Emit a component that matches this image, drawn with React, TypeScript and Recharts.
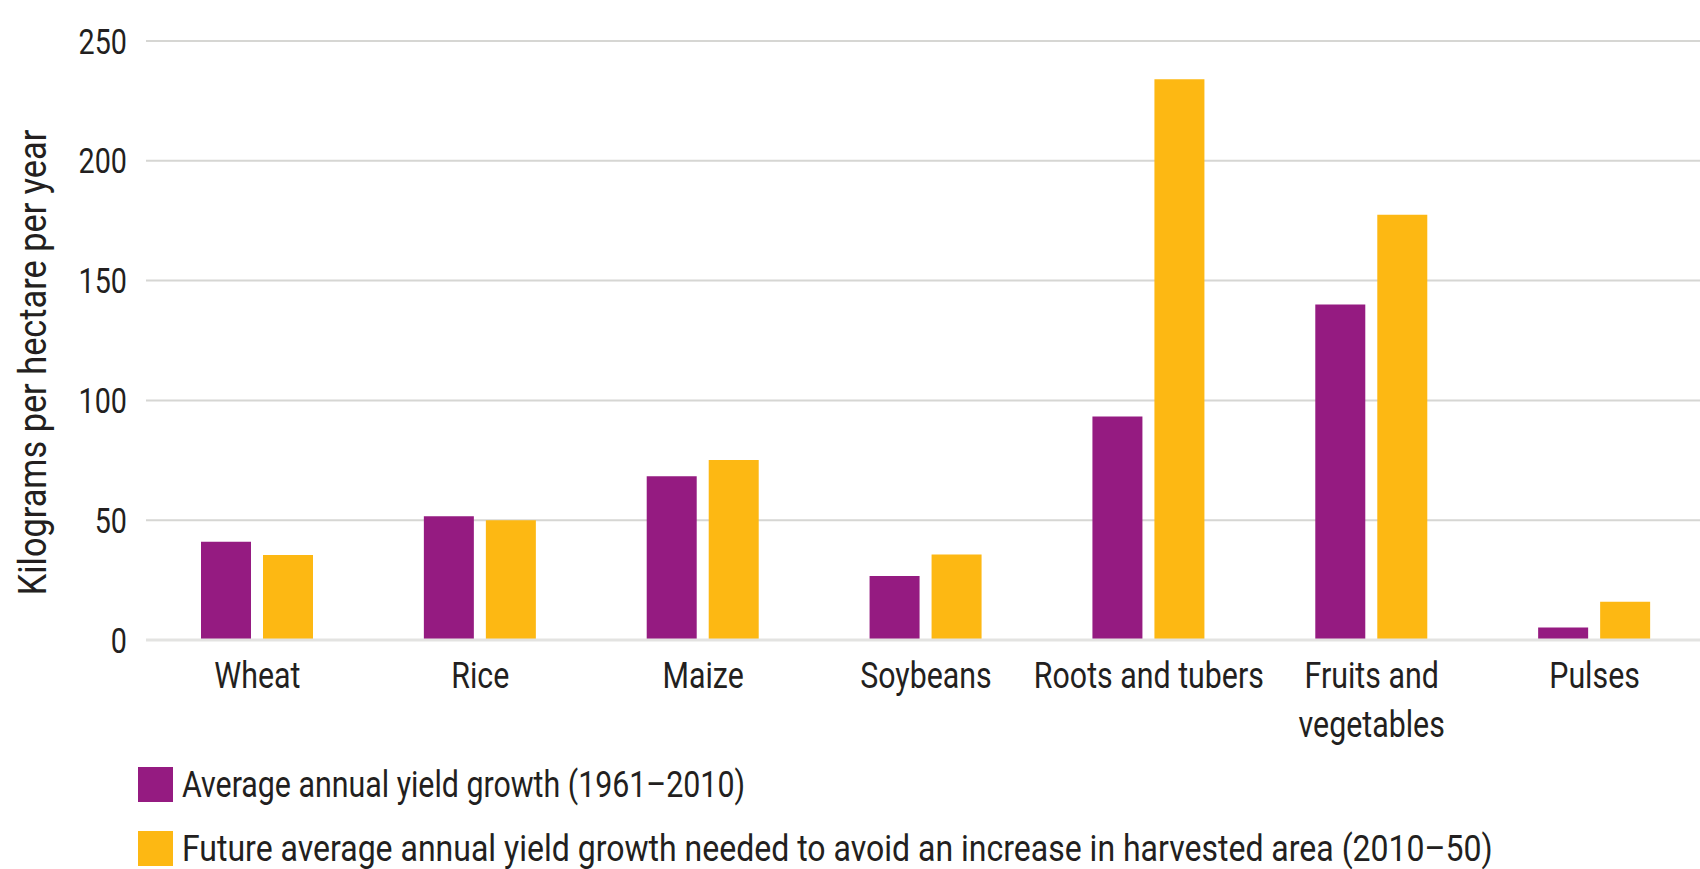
import { BarChart, Bar, XAxis, YAxis, CartesianGrid, Legend } from "recharts";

const categories = ["Wheat", "Rice", "Maize", "Soybeans", "Roots and tubers", "Fruits and vegetables", "Pulses"];
const pastGrowth = [41, 51.7, 68.3, 26.7, 93.3, 140, 5.2];
const neededGrowth = [35.5, 50, 75.1, 35.7, 234, 177.5, 16];
const yTicks = [0, 50, 100, 150, 200, 250];

const seriesNames = {
  past: "Average annual yield growth (1961\u20132010)",
  needed: "Future average annual yield growth needed to avoid an increase in harvested area (2010\u201350)",
};

const PURPLE = "#951b81";
const YELLOW = "#fdb813";
const TEXT = "#231f20";
const FONT = "Roboto, 'Liberation Sans', sans-serif";
// no condensed face is installed, so text is squeezed horizontally
const SQUEEZE = 0.82;

const data = categories.map((name, i) => ({
  name,
  past: pastGrowth[i],
  needed: neededGrowth[i],
}));

function CategoryTick(props: any) {
  const { x, y, payload } = props;
  const label: string = payload.value;
  let lines = [label];
  if (label.length > 18) {
    const words = label.split(" ");
    const half = Math.ceil(words.length / 2);
    lines = [words.slice(0, half).join(" "), words.slice(half).join(" ")];
  }
  return (
    <g transform={`translate(${x},${y}) scale(${SQUEEZE},1)`}>
      <text x={0} y={0} textAnchor="middle" fill={TEXT} fontSize={37} fontFamily={FONT}>
        {lines.map((ln, i) => (
          <tspan key={i} x={0} dy={i === 0 ? 48 : 49}>
            {ln}
          </tspan>
        ))}
      </text>
    </g>
  );
}

function ValueTick(props: any) {
  const { x, y, payload } = props;
  return (
    <g transform={`translate(${x},${y}) scale(${SQUEEZE},1)`}>
      <text x={0} y={0} dy="0.36em" textAnchor="end" fill={TEXT} fontSize={35} fontFamily={FONT}>
        {payload.value}
      </text>
    </g>
  );
}

function YTitle(props: any) {
  const vb = props.viewBox;
  const cx = vb.x + 46;
  const cy = vb.y + vb.height / 2 + 22;
  return (
    <g transform={`translate(${cx},${cy}) rotate(-90) scale(0.88,1)`}>
      <text x={0} y={0} textAnchor="middle" fill={TEXT} fontSize={39} fontFamily={FONT}>
        Kilograms per hectare per year
      </text>
    </g>
  );
}

function LegendBox() {
  const rows = [
    { color: PURPLE, text: seriesNames.past, squeeze: SQUEEZE },
    { color: YELLOW, text: seriesNames.needed, squeeze: 0.865 },
  ];
  return (
    <div style={{ height: 128, width: 1400, fontFamily: FONT, color: TEXT }}>
      {rows.map((r) => (
        <div key={r.text} style={{ display: "flex", alignItems: "center", height: 64 }}>
          <span style={{ width: 35, height: 35, background: r.color, marginRight: 9, flexShrink: 0 }} />
          <span
            style={{
              fontSize: 37,
              whiteSpace: "nowrap",
              display: "inline-block",
              transform: `scaleX(${r.squeeze})`,
              transformOrigin: "left center",
            }}
          >
            {r.text}
          </span>
        </div>
      ))}
    </div>
  );
}

export default function App() {
  return (
    <div style={{ position: "absolute", left: 0, top: 0, width: 1700, height: 869, overflow: "hidden", background: "#fff" }}>
      <BarChart
        width={1706}
        height={869}
        data={data}
        margin={{ top: 41, right: 0, bottom: 0, left: 0 }}
        barSize={50}
        barGap={12}
      >
        <CartesianGrid vertical={false} stroke="#d6d6d3" strokeWidth={2} />
        <XAxis
          dataKey="name"
          height={101}
          tickLine={false}
          tickSize={0}
          tickMargin={0}
          axisLine={{ stroke: "#e3e3e1", strokeWidth: 3 }}
          tick={<CategoryTick />}
          interval={0}
        />
        <YAxis
          width={146}
          domain={[0, 250]}
          ticks={yTicks}
          tickLine={false}
          axisLine={false}
          tickSize={0}
          tickMargin={19}
          tick={<ValueTick />}
          label={<YTitle />}
        />
        <Legend
          verticalAlign="bottom"
          wrapperStyle={{ left: 138, top: 752, width: "auto" }}
          content={() => <LegendBox />}
        />
        <Bar dataKey="past" name={seriesNames.past} fill={PURPLE} isAnimationActive={false} />
        <Bar dataKey="needed" name={seriesNames.needed} fill={YELLOW} isAnimationActive={false} />
      </BarChart>
    </div>
  );
}
